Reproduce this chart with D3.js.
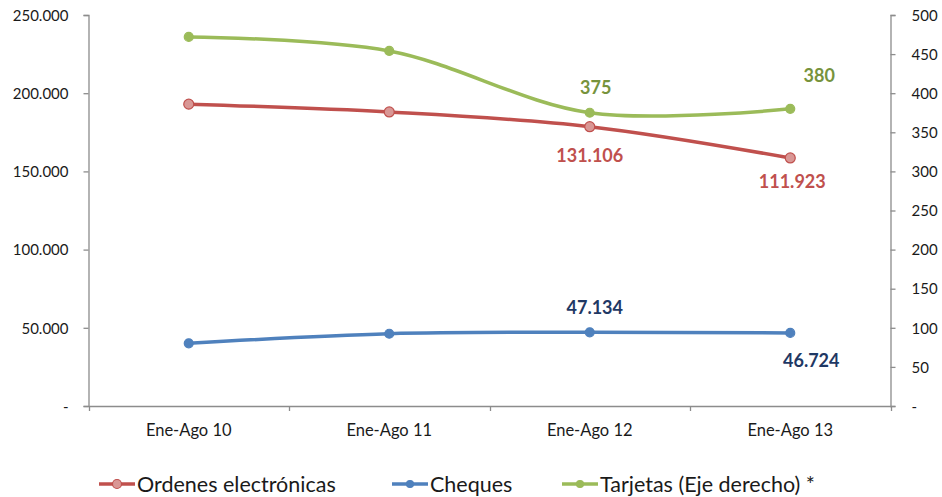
<!DOCTYPE html>
<html><head><meta charset="utf-8">
<script src="https://cdn.jsdelivr.net/npm/d3@7"></script>
<style>
body{margin:0;background:#fff;}
svg{display:block;font-family:Lato,"Open Sans",sans-serif;}
</style></head>
<body><svg id="c" width="942" height="497"></svg>
<script>
const categories = ["Ene-Ago 10","Ene-Ago 11","Ene-Ago 12","Ene-Ago 13"];
const ordenes = [193000, 188000, 178600, 158600];
const cheques = [40100, 46200, 47134, 46724];
const tarjetas = [472, 454, 375, 380];
const leftTicks = [0, 50000, 100000, 150000, 200000, 250000];
const rightTicks = [0, 50, 100, 150, 200, 250, 300, 350, 400, 450, 500];
const seriesNames = ["Ordenes electrónicas", "Cheques", "Tarjetas (Eje derecho) *"];
const labelTexts = {ordenes: ["", "", "131.106", "111.923"], cheques: ["", "", "47.134", "46.724"], tarjetas: ["", "", "375", "380"]};

const svg = d3.select("#c");
const L = 88.5, R = 890.5, T = 15, B = 406;
const x = d3.scaleBand().domain(categories).range([L, R]);
const yL = d3.scaleLinear().domain([0, 250000]).range([B, T]);
const yR = d3.scaleLinear().domain([0, 500]).range([B, T]);
const fmt = v => v === 0 ? "-" : d3.format(",")(v).replace(/,/g, ".");
const axisColor = "#8c8c8c";

const gL = svg.append("g").attr("transform", `translate(${L},0)`)
  .call(d3.axisLeft(yL).tickValues(leftTicks).tickFormat(fmt).tickSizeInner(5).tickSizeOuter(5).tickPadding(15));
const gR = svg.append("g").attr("transform", `translate(${R},0)`)
  .call(d3.axisRight(yR).tickValues(rightTicks).tickFormat(fmt).tickSizeInner(5).tickSizeOuter(5).tickPadding(16));
const gB = svg.append("g").attr("transform", `translate(0,${B})`)
  .call(d3.axisBottom(x).tickSize(0).tickPadding(18));
const bounds = categories.map(c => x(c)).concat([x(categories[categories.length-1]) + x.bandwidth()]);
gB.selectAll("line.bt").data(bounds).enter().append("line").attr("class","bt")
  .attr("x1", d => Math.round(d) + 0.5).attr("x2", d => Math.round(d) + 0.5).attr("y1", 0).attr("y2", 5);

[gL, gR, gB].forEach(g => {
  g.selectAll("path.domain").attr("stroke", axisColor).attr("stroke-width", 1.3);
  g.selectAll("line").attr("stroke", axisColor).attr("stroke-width", 1.3);
  g.selectAll("text").attr("fill", "#1a1a1a").style("font-size", "15px").style("font-family", "Lato, sans-serif");
});
gB.selectAll(".tick text").style("font-size", "16.5px");
gL.selectAll(".tick text").attr("dy", "0.35em");
gR.selectAll(".tick text").attr("dy", "0.35em");

const cx = c => x(c) + x.bandwidth() / 2;
const series = [
  {key: "ordenes", vals: ordenes, y: yL, color: "#C0504D", fill: "#D99795", mstroke: "#C0504D", r: 5, label: "#C0504D"},
  {key: "cheques", vals: cheques, y: yL, color: "#4F81BD", fill: "#4F81BD", mstroke: "#4F81BD", r: 4.5, label: "#1F3864"},
  {key: "tarjetas", vals: tarjetas, y: yR, color: "#9BBB59", fill: "#9BBB59", mstroke: "#9BBB59", r: 4.5, label: "#77933C"}
];
series.forEach(s => {
  const line = d3.line().x((d, i) => cx(categories[i])).y(d => s.y(d)).curve(d3.curveCatmullRom.alpha(0.5));
  svg.append("path").datum(s.vals).attr("d", line).attr("fill", "none")
    .attr("stroke", s.color).attr("stroke-width", 3.5).attr("stroke-linecap", "round");
  svg.selectAll(null).data(s.vals).enter().append("circle")
    .attr("cx", (d, i) => cx(categories[i])).attr("cy", d => s.y(d)).attr("r", s.r)
    .attr("fill", s.fill).attr("stroke", s.mstroke).attr("stroke-width", 1.2);
});

const labelOffsets = {
  ordenes: [null, null, [0, 35], [2, 30]],
  cheques: [null, null, [5, -18], [21, 34]],
  tarjetas: [null, null, [6, -19], [29, -27]]
};
series.forEach(s => {
  s.vals.forEach((v, i) => {
    const t = labelTexts[s.key][i];
    if (!t) return;
    const o = labelOffsets[s.key][i];
    svg.append("text").attr("x", cx(categories[i]) + o[0]).attr("y", s.y(v) + o[1])
      .attr("text-anchor", "middle").attr("fill", s.label)
      .style("font-size", "18px").style("font-weight", "bold").text(t);
  });
});

const legendX = [99, 392, 562];
const lg = svg.append("g").attr("transform", "translate(0,484)");
series.forEach((s, i) => {
  const g = lg.append("g").attr("transform", `translate(${legendX[i]},0)`);
  g.append("line").attr("x1", 0).attr("x2", 36).attr("y1", 0).attr("y2", 0)
    .attr("stroke", s.color).attr("stroke-width", 3.5);
  g.append("circle").attr("cx", 18).attr("cy", 0).attr("r", s.key === "ordenes" ? 4.5 : 3.5)
    .attr("fill", s.fill).attr("stroke", s.mstroke).attr("stroke-width", 1.2);
  g.append("text").attr("x", 38).attr("y", 0).attr("dy", "0.35em").attr("fill", "#1a1a1a")
    .style("font-size", "21.5px").text(seriesNames[i]);
});
</script></body></html>
